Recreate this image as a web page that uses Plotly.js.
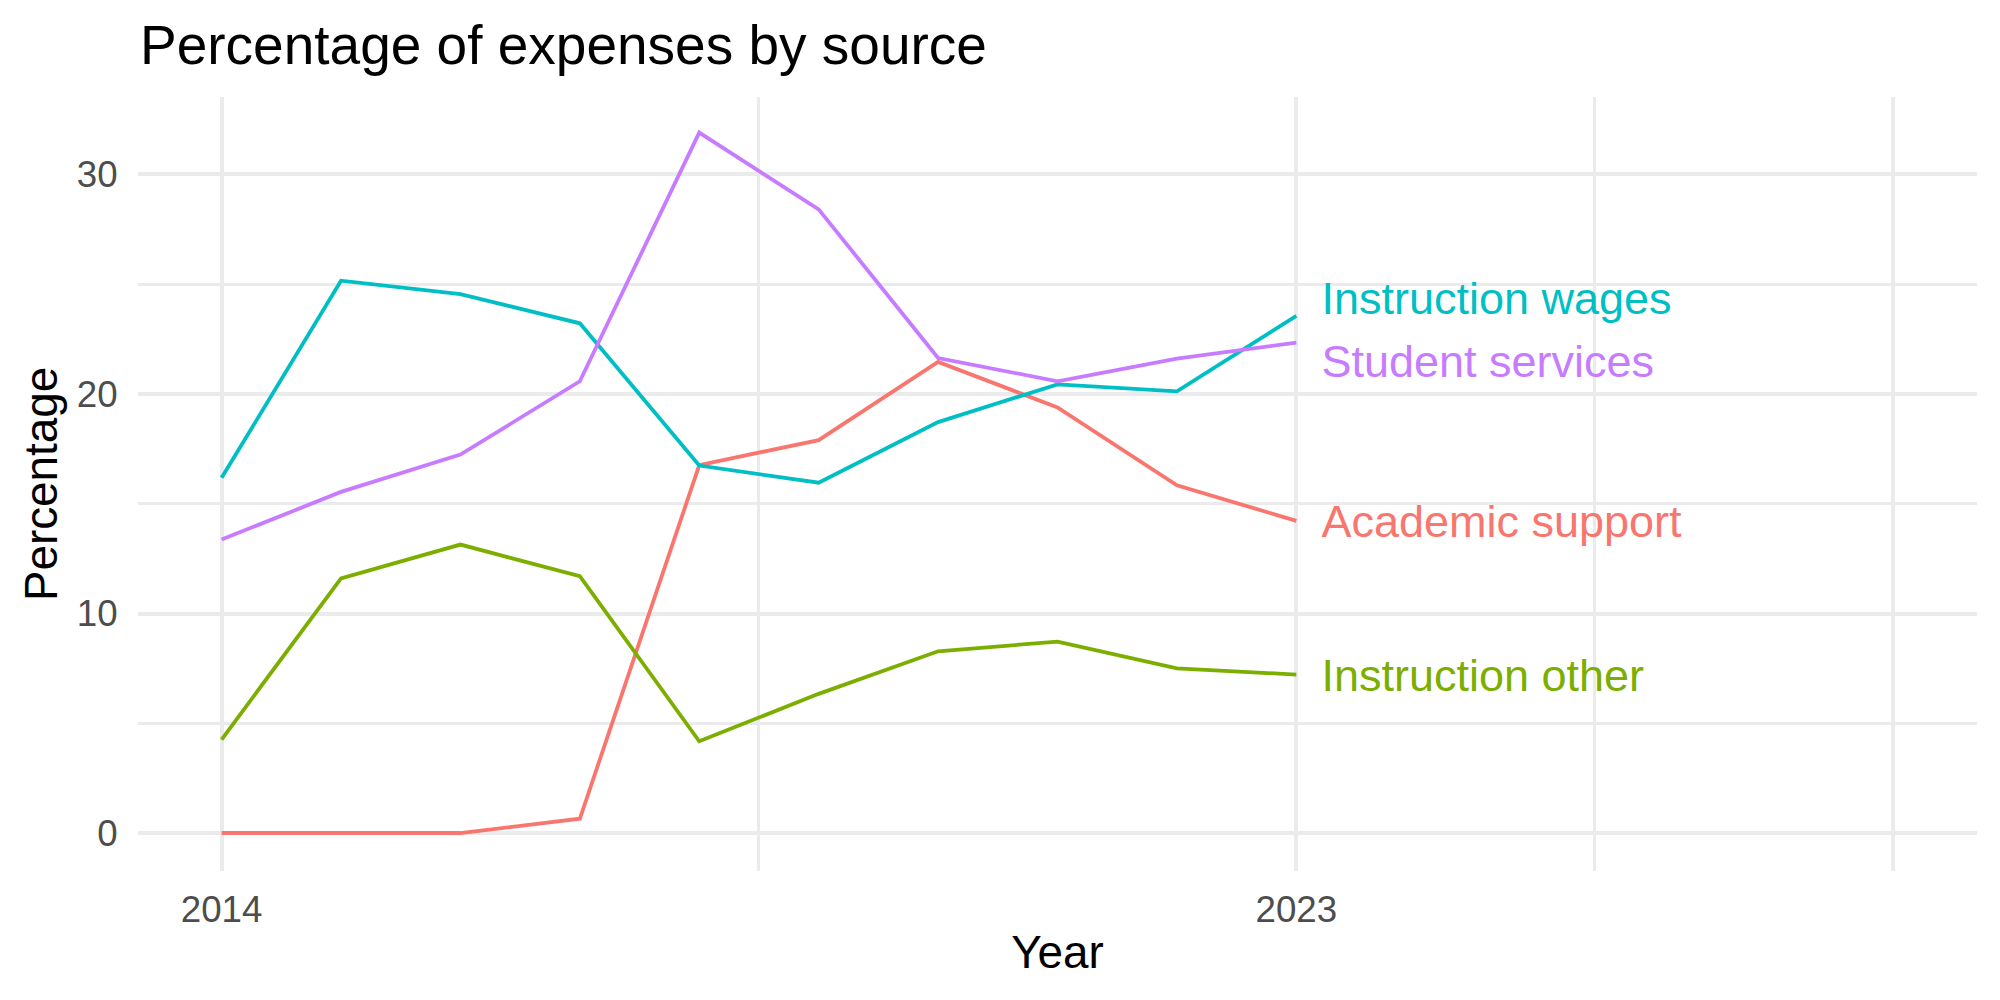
<!DOCTYPE html>
<html>
<head>
<meta charset="utf-8">
<script src="https://cdn.plot.ly/plotly-3.0.1.min.js"></script>
<style>
  html, body { margin: 0; padding: 0; background: #ffffff; }
  #chart { width: 2000px; height: 1000px; }
</style>
</head>
<body>
<div id="chart"></div>
<script>
// Share of expenses by source, 2014-2023
const years = [2014, 2015, 2016, 2017, 2018, 2019, 2020, 2021, 2022, 2023];

const academicSupport    = [0.0, 0.02, 0.0, 0.65, 16.76, 17.9, 21.46, 19.39, 15.84, 14.22];
const instructionOther   = [4.26, 11.6, 13.14, 11.7, 4.18, 6.34, 8.28, 8.72, 7.5, 7.22];
const instructionWages   = [16.18, 25.16, 24.55, 23.22, 16.74, 15.96, 18.72, 20.44, 20.12, 23.56];
const studentServices    = [13.37, 15.54, 17.24, 20.58, 31.91, 28.41, 21.64, 20.58, 21.61, 22.34];

const seriesNames  = ["Academic support", "Instruction other", "Instruction wages", "Student services"];
const seriesValues = [academicSupport, instructionOther, instructionWages, studentServices];
const seriesColors = ["#F8766D", "#7CAE00", "#00BFC4", "#C77CFF"];

const xTickVals  = [2014, 2023, 2028];
const xTickText  = ["2014", "2023", ""];
const xMinorVals = [2018.5, 2025.5];
const yTickVals  = [0, 10, 20, 30];
const yMinorVals = [5, 15, 25];

const FONT = "Liberation Sans, Arial, Helvetica, sans-serif";
const LABEL_GAP_YEARS = 0.21;   // horizontal gap between line end and its label
const LABEL_MIN_SEP = 2.85;     // minimum vertical spacing between end labels
const LABEL_NUDGE_Y = -0.23;    // small downward nudge so the text sits centred on its line end

// End-of-line label positions: start at the last value, push apart overlapping pairs
const lastIdx = years.length - 1;
const labelItems = seriesNames.map((name, i) => ({ i, y: seriesValues[i][lastIdx] }));
labelItems.sort((a, b) => a.y - b.y);
for (let pass = 0; pass < 10; pass++) {
  for (let k = 1; k < labelItems.length; k++) {
    const gap = labelItems[k].y - labelItems[k - 1].y;
    if (gap < LABEL_MIN_SEP) {
      const push = (LABEL_MIN_SEP - gap) / 2;
      labelItems[k].y += push;
      labelItems[k - 1].y -= push;
    }
  }
}
const labelY = {};
labelItems.forEach(it => { labelY[it.i] = it.y + LABEL_NUDGE_Y; });

const traces = [];
seriesNames.forEach((name, i) => {
  traces.push({
    type: "scatter",
    mode: "lines",
    x: years,
    y: seriesValues[i],
    name: name,
    line: { color: seriesColors[i], width: 3.8 },
    hoverinfo: "x+y+name"
  });
});
seriesNames.forEach((name, i) => {
  traces.push({
    type: "scatter",
    mode: "text",
    x: [years[lastIdx] + LABEL_GAP_YEARS],
    y: [labelY[i]],
    text: [name],
    textposition: "middle right",
    textfont: { family: FONT, size: 45, color: seriesColors[i] },
    hoverinfo: "skip",
    showlegend: false
  });
});

const layout = {
  width: 2000,
  height: 1000,
  paper_bgcolor: "#ffffff",
  plot_bgcolor: "#ffffff",
  showlegend: false,
  margin: { l: 138, r: 23, t: 97, b: 129, pad: 0 },
  title: {
    text: "Percentage of expenses by source",
    font: { family: FONT, size: 55, color: "#000000" },
    x: 0.07, xref: "container", xanchor: "left",
    y: 0.975, yref: "container", yanchor: "top"
  },
  xaxis: {
    range: [2013.3, 2028.7],
    tickmode: "array",
    tickvals: xTickVals,
    ticktext: xTickText,
    ticks: "outside",
    ticklen: 6,
    tickcolor: "rgba(0,0,0,0)",
    tickfont: { family: FONT, size: 36.7, color: "#4D4D4D" },
    showgrid: true,
    gridcolor: "#EBEBEB",
    gridwidth: 4,
    minor: { tickmode: "array", tickvals: xMinorVals, showgrid: true, gridcolor: "#EBEBEB", gridwidth: 2.5, ticks: "" },
    zeroline: false,
    showline: false,
    title: { text: "Year", font: { family: FONT, size: 45.8, color: "#000000" }, standoff: 6 }
  },
  yaxis: {
    range: [-1.73, 33.53],
    tickmode: "array",
    tickvals: yTickVals,
    ticks: "outside",
    ticklen: 12,
    tickcolor: "rgba(0,0,0,0)",
    tickfont: { family: FONT, size: 36.7, color: "#4D4D4D" },
    showgrid: true,
    gridcolor: "#EBEBEB",
    gridwidth: 4,
    minor: { tickmode: "array", tickvals: yMinorVals, showgrid: true, gridcolor: "#EBEBEB", gridwidth: 2.5, ticks: "" },
    zeroline: false,
    showline: false,
    title: { text: "Percentage", font: { family: FONT, size: 45.8, color: "#000000" }, standoff: 4 }
  }
};

Plotly.newPlot("chart", traces, layout, { displayModeBar: false, responsive: false });
</script>
</body>
</html>
